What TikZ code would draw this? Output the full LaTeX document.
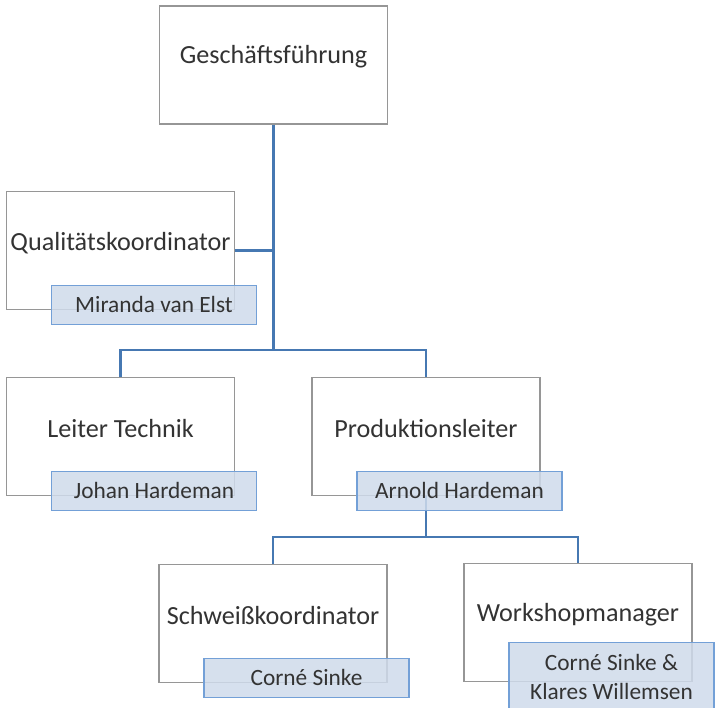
\documentclass[tikz,border=0pt]{standalone}
\usepackage{fontspec}
\setmainfont{Carlito}
\usetikzlibrary{calc}

\definecolor{linkblue}{RGB}{70,120,178}
\definecolor{boxgray}{RGB}{150,150,150}
\definecolor{namefill}{RGB}{207,219,235}
\definecolor{nameedge}{RGB}{115,160,215}

\begin{document}
\begin{tikzpicture}[x=0.025cm, y=-0.025cm,
	rolebox/.style={draw=boxgray, line width=0.9pt, fill=white, minimum width=5.7cm, minimum height=2.95cm, inner sep=0pt},
	roletext/.style={font=\fontsize{18.6}{22}\selectfont, text=black!80},
	namebox/.style={draw=nameedge, line width=0.9pt, fill=namefill, fill opacity=0.85, text opacity=1, minimum width=5.125cm, minimum height=0.975cm, inner sep=0pt, align=center, font=\fontsize{16.6}{20.5}\selectfont, text=black!80},
	link/.style={draw=linkblue, line width=2.1pt}]

	\useasboundingbox (0,0) rectangle (716,708);

% Define coordinates.

	%bus lines
	\coordinate (busA) at (273.5, 350);
	\coordinate (busB) at (426, 537);

% Draw boxes.

	\node[rolebox] (gf) at (273.5, 65) {};
	\node[rolebox] (qk) at (120.5, 250.5) {};
	\node[rolebox] (lt) at (120.5, 436.5) {};
	\node[rolebox] (pl) at (426, 436.5) {};
	\node[rolebox] (sk) at (273, 623.5) {};
	\node[rolebox] (wm) at (578, 622.5) {};

% Draw lines.

	\draw[link] (gf.south) -- (busA);
	\draw[link] (qk.east) -- (qk.east -| busA);
	\draw[link] (lt.north) |- (busA) -| (pl.north);
	\draw[link] (pl.south) -- (busB);
	\draw[link] (sk.north) |- (busB) -| (wm.north);

% Draw box labels.

	\node[roletext] (gfText) at ($(gf.center)+(0,-8)$) {Geschäftsführung};
	\node[roletext] (qkText) at ($(qk.center)+(0,-7.5)$) {Qualitätskoordinator};
	\node[roletext] (ltText) at ($(lt.center)+(0,-8)$) {Leiter Technik};
	\node[roletext] (plText) at ($(pl.center)+(0,-8)$) {Produktionsleiter};
	\node[roletext] (skText) at ($(sk.center)+(0,-8)$) {Schweißkoordinator};
	\node[roletext] (wmText) at ($(wm.center)+(0,-7.5)$) {Workshopmanager};

% Draw name boxes.

	\node[namebox] (qkName) at ($(qk.south)+(33.5,-5.5)$) {Miranda van Elst};
	\node[namebox] (ltName) at ($(lt.south)+(33.5,-5.5)$) {Johan Hardeman};
	\node[namebox] (plName) at ($(pl.south)+(33.5,-5.5)$) {Arnold Hardeman};
	\node[namebox] (skName) at ($(sk.south)+(33.5,-5.5)$) {Corné Sinke};
	\node[namebox, minimum height=1.725cm] (wmName) at ($(wm.south)+(33.5,-5.5)$) {Corné Sinke \&\\Klares Willemsen};

\end{tikzpicture}
\end{document}
